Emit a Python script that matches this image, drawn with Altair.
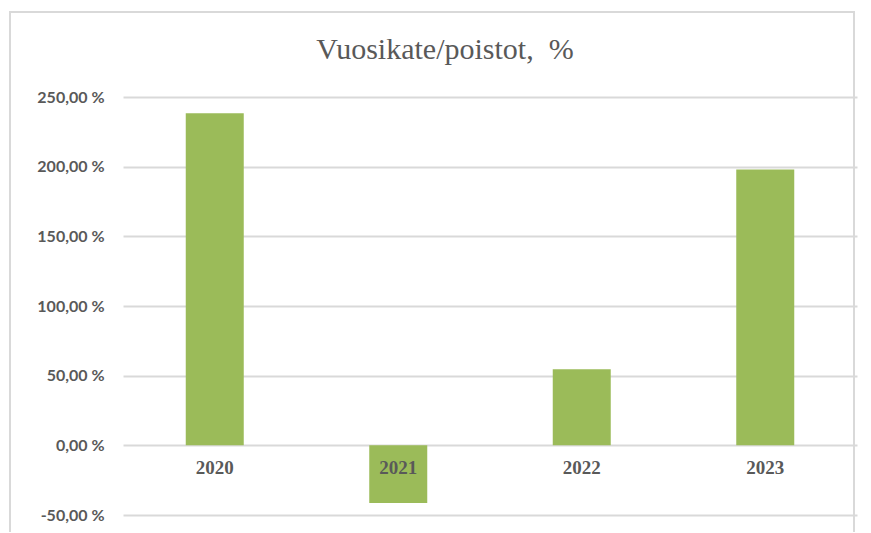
import altair as alt
import pandas as pd

years = ["2020", "2021", "2022", "2023"]
values = [238.3, -41.4, 54.6, 197.9]
y_ticks = [-50, 0, 50, 100, 150, 200, 250]
title_text = ["Vuosikate/poistot, \u00a0%"]

df = pd.DataFrame({"year": years, "value": values, "zero": [0] * len(years)})
tdf = pd.DataFrame({"t": title_text})

TXT = "#595959"
GRID = "#D9D9D9"

x_enc = alt.X("year:N", sort=years, axis=None,
              scale=alt.Scale(paddingInner=0, paddingOuter=0))
y_scale = alt.Scale(domain=[-50, 250], nice=False, zero=False)

bars = alt.Chart(df).mark_bar(width=58, color="#9BBB59").encode(
    x=x_enc,
    y=alt.Y("value:Q", scale=y_scale,
            axis=alt.Axis(values=y_ticks, title=None, domain=False, ticks=False,
                          grid=True, gridColor=GRID, gridWidth=2,
                          labelPadding=19, labelFont="Lato", labelFontWeight="bold",
                          labelFontSize=16, labelColor=TXT,
                          labelExpr="(datum.value < 0 ? '-' : '') + replace(format(abs(datum.value), '.2f'), '.', ',') + ' %'")),
)

labels = alt.Chart(df).mark_text(dy=23, font="Liberation Serif", fontWeight="bold",
                                  fontSize=19, color=TXT, baseline="middle").encode(
    x=x_enc,
    y=alt.Y("zero:Q", scale=y_scale),
    text="year:N",
)

title = alt.Chart(tdf).mark_text(font="Liberation Serif", fontSize=30, color=TXT,
                                  align="center", baseline="alphabetic").encode(
    x=alt.value(322), y=alt.value(-38), text="t:N"
)

border = alt.Chart(df).mark_rect(fill=None, stroke=GRID, strokeWidth=1.5).encode(
    x=alt.value(-113), x2=alt.value(731), y=alt.value(-85), y2=alt.value(460)
)

chart = alt.layer(border, bars, labels, title).properties(
    width=734, height=418,
    autosize=alt.AutoSizeParams(type="none"),
    padding={"left": 115, "top": 89, "right": 6, "bottom": 17},
).configure_view(stroke=None)

chart.save("out.html", embed_options={"renderer": "svg", "actions": False})
